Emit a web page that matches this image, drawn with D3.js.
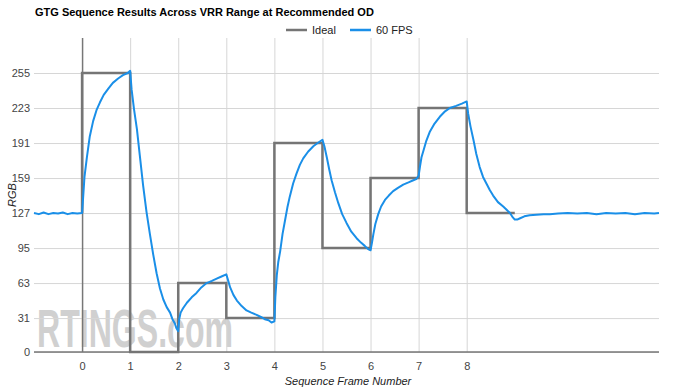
<!DOCTYPE html>
<html>
<head>
<meta charset="utf-8">
<script src="https://cdn.jsdelivr.net/npm/d3@7"></script>
<style>
  body { margin: 0; background: #fff; }
  text { font-family: "Liberation Sans", Arial, sans-serif; }
</style>
</head>
<body>
<div class="chart"></div>
<script>
// tick labels
var yTicks = [0, 31, 63, 95, 127, 159, 191, 223, 255];
var xTicks = [0, 1, 2, 3, 4, 5, 6, 7, 8];

// ideal step response
var idealX = [0, 0, 1, 1, 2, 2, 3, 3, 4, 4, 5, 5, 6, 6, 7, 7, 8, 8, 9];
var idealY = [127, 255, 255, 0, 0, 63, 63, 31, 31, 191, 191, 95, 95, 159, 159, 223, 223, 127, 127];

var fpsX = [-1, -0.9, -0.8, -0.7, -0.6, -0.5, -0.4, -0.3, -0.2, -0.1, 0,
    0.02, 0.05, 0.1, 0.16, 0.23, 0.3, 0.37, 0.45, 0.55, 0.64, 0.75, 0.85, 0.95, 1.0,
    1.03, 1.08, 1.14, 1.2, 1.27, 1.34, 1.41, 1.48, 1.55, 1.62, 1.69, 1.76, 1.83, 1.88, 1.93, 1.96, 2.0,
    2.02, 2.05, 2.1, 2.18, 2.28, 2.38, 2.48, 2.59, 2.7, 2.8, 2.9, 3.0,
    3.04, 3.08, 3.15, 3.22, 3.32, 3.42, 3.52, 3.63, 3.72, 3.8, 3.88, 3.94, 4.0,
    4.02, 4.05, 4.08, 4.12, 4.17, 4.22, 4.27, 4.32, 4.39, 4.46, 4.53, 4.6, 4.7, 4.81, 4.9, 5.0,
    5.04, 5.09, 5.14, 5.19, 5.26, 5.33, 5.41, 5.5, 5.6, 5.71, 5.8, 5.88, 5.95, 6.0,
    6.03, 6.06, 6.1, 6.16, 6.22, 6.3, 6.38, 6.47, 6.57, 6.68, 6.79, 6.89, 6.95, 7.0,
    7.03, 7.06, 7.1, 7.16, 7.23, 7.32, 7.44, 7.55, 7.65, 7.78, 7.9, 8.0,
    8.03, 8.08, 8.14, 8.2, 8.27, 8.34, 8.41, 8.48, 8.55, 8.65, 8.76, 8.83, 8.9, 8.96, 9.0,
    9.05, 9.1, 9.2, 9.31, 9.45, 9.6, 9.73, 9.9, 10.1, 10.3, 10.5, 10.7, 10.9, 11.1, 11.3, 11.5, 11.7, 11.9, 12];
var fpsY = [127, 126, 127.5, 126, 127, 126.5, 127.5, 126, 127, 126.5, 127,
    140, 160, 178, 197, 211, 221, 228, 235, 241, 246, 250, 253, 255, 257,
    240, 222, 204, 180, 152, 128, 108, 89, 72, 58, 48, 41, 36, 30, 26, 22, 19,
    30, 36, 40, 45, 50, 54, 59, 63, 65, 67, 69, 71,
    65, 59, 52, 47, 42, 38, 36, 34, 32, 30, 29, 27, 28,
    50, 70, 82, 92, 108, 120, 132, 142, 154, 163, 171, 177, 183, 188, 191, 194,
    188, 178, 167, 157, 146, 136, 126, 118, 110, 104, 100, 97, 94, 93,
    100, 108, 117, 126, 133, 139, 143, 147, 150, 153, 155, 157, 158, 161,
    170, 178, 184, 193, 201, 208, 215, 220, 223, 225, 227, 229,
    218, 206, 194, 181, 169, 160, 154, 148, 143, 137, 133, 130, 127, 123, 121,
    121, 122, 124, 125, 125.5, 126, 126, 126.5, 127, 126.5, 127, 126, 127, 126.5, 127, 126, 127, 126.5, 127];

var width = 675, height = 390;
var padL = 34, padR = 659, padT = 38, padB = 352;

var svg = d3.select(".chart").append("svg")
    .attr("width", width)
    .attr("height", height);

var x = d3.scaleLinear().domain([-1, 12]).range([padL, padR]);
var y = d3.scaleLinear().domain([0, 287]).range([padB, padT]);

// title
svg.append("text")
    .attr("x", 35).attr("y", 16)
    .attr("font-size", 11).attr("font-weight", "bold")
    .attr("fill", "#000")
    .text("GTG Sequence Results Across VRR Range at Recommended OD");

// watermark
svg.append("text")
    .attr("x", 37).attr("y", 347)
    .attr("font-family", "'Liberation Sans Narrow', 'Liberation Sans', sans-serif")
    .attr("font-size", 54).attr("font-weight", "bold")
    .attr("fill", "#d0d0d0")
    .attr("textLength", 196).attr("lengthAdjust", "spacingAndGlyphs")
    .text("RTINGS.com");

// horizontal grid + y labels
var yAxis = svg.append("g")
    .attr("transform", "translate(" + padL + ",0)")
    .call(d3.axisLeft(y).tickValues(yTicks).tickSize(-(padR - padL)).tickPadding(4));
yAxis.select(".domain").remove();
yAxis.selectAll("line").attr("stroke", "#d6d6d6");
yAxis.selectAll("text").attr("font-size", 11).attr("fill", "#444")
    .attr("font-family", "'Liberation Sans', Arial, sans-serif");

// vertical grid + x labels
var xAxis = svg.append("g")
    .attr("transform", "translate(0," + padB + ")")
    .call(d3.axisBottom(x).tickValues(xTicks).tickSize(-(padB - padT)).tickPadding(10));
xAxis.select(".domain").remove();
xAxis.selectAll("line").attr("stroke", function (d) { return d === 0 ? "#777" : "#d6d6d6"; })
    .attr("stroke-width", function (d) { return d === 0 ? 1.5 : 1; });
xAxis.selectAll("text").attr("font-size", 11).attr("fill", "#444")
    .attr("font-family", "'Liberation Sans', Arial, sans-serif");

// baseline
svg.append("line")
    .attr("x1", padL).attr("x2", padR)
    .attr("y1", y(0)).attr("y2", y(0))
    .attr("stroke", "#777").attr("stroke-width", 1.5);

var line = d3.line()
    .x(function (d) { return x(d[0]); })
    .y(function (d) { return y(d[1]); });

svg.append("path")
    .datum(d3.zip(idealX, idealY))
    .attr("fill", "none")
    .attr("stroke", "#757575")
    .attr("stroke-width", 2.5)
    .attr("d", line);

svg.append("path")
    .datum(d3.zip(fpsX, fpsY))
    .attr("fill", "none")
    .attr("stroke", "#1a8fe8")
    .attr("stroke-width", 2)
    .attr("stroke-linejoin", "round")
    .attr("d", line);

// axis titles
svg.append("text")
    .attr("transform", "translate(16," + ((padT + padB) / 2) + ") rotate(-90)")
    .attr("text-anchor", "middle")
    .attr("font-size", 11).attr("font-style", "italic").attr("fill", "#222")
    .text("RGB");

svg.append("text")
    .attr("x", 348).attr("y", 385)
    .attr("text-anchor", "middle")
    .attr("font-size", 11).attr("font-style", "italic").attr("fill", "#222")
    .text("Sequence Frame Number");

// legend
var legend = [
    { name: "Ideal", color: "#757575", x: 286 },
    { name: "60 FPS", color: "#1a8fe8", x: 350 }
];
var lg = svg.selectAll(".legend")
    .data(legend)
    .enter()
    .append("g")
    .attr("transform", function (d) { return "translate(" + d.x + ",30)"; });
lg.append("line")
    .attr("x1", 0).attr("x2", 21)
    .attr("stroke", function (d) { return d.color; })
    .attr("stroke-width", 2.5);
lg.append("text")
    .attr("x", 26).attr("y", 4)
    .attr("font-size", 11).attr("fill", "#222")
    .text(function (d) { return d.name; });
</script>
</body>
</html>
